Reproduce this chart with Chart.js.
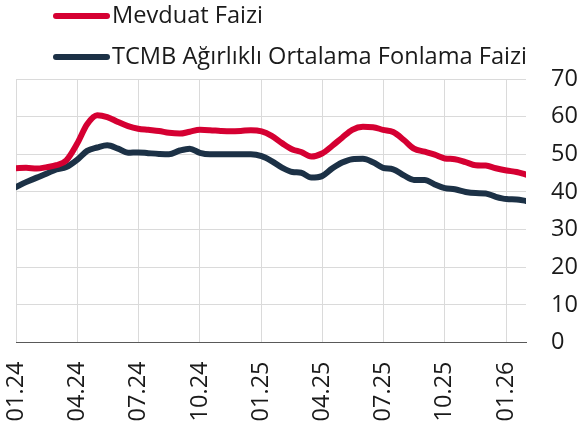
<!DOCTYPE html>
<html><head><meta charset="utf-8">
<script src="https://cdn.jsdelivr.net/npm/chart.js@4"></script>
<style>html,body{margin:0;padding:0;background:#fff}#wrap{width:581px;height:425px;position:relative}</style>
</head><body><div id="wrap"><canvas id="c" width="581" height="425"></canvas></div>
<script>
const dates = [
 '2024-01-01','2024-01-16','2024-02-01','2024-02-16','2024-03-01','2024-03-16','2024-04-01','2024-04-16','2024-05-01','2024-05-16','2024-06-01','2024-06-16',
 '2024-07-01','2024-07-16','2024-08-01','2024-08-16','2024-09-01','2024-09-16','2024-10-01','2024-10-16','2024-11-01','2024-11-16','2024-12-01','2024-12-16',
 '2025-01-01','2025-01-16','2025-02-01','2025-02-16','2025-03-01','2025-03-16','2025-04-01','2025-04-16','2025-05-01','2025-05-16','2025-06-01','2025-06-16',
 '2025-07-01','2025-07-16','2025-08-01','2025-08-16','2025-09-01','2025-09-16','2025-10-01','2025-10-16','2025-11-01','2025-11-16','2025-12-01','2025-12-16',
 '2026-01-01','2026-01-16','2026-01-30'
];
const mevduat = [
 46.3,46.4,46.2,46.6,47.1,48.4,52.8,58.0,60.4,59.9,58.6,57.5,
 56.8,56.5,56.2,55.7,55.5,56.0,56.5,56.4,56.2,56.1,56.2,56.4,
 56.1,54.9,52.9,51.3,50.6,49.4,50.2,52.2,54.4,56.5,57.3,57.2,
 56.5,55.9,53.8,51.5,50.7,49.9,48.9,48.7,47.9,47.1,47.0,46.3,
 45.7,45.3,44.6
];
const tcmb = [
 41.3,42.6,43.8,44.9,46.0,46.6,48.5,50.9,51.8,52.4,51.5,50.4,
 50.5,50.3,50.1,50.0,51.0,51.5,50.4,50.0,50.0,50.0,50.0,50.0,
 49.5,48.2,46.4,45.3,45.1,43.8,44.2,46.2,47.8,48.7,48.8,47.9,
 46.4,46.0,44.4,43.2,43.2,42.0,41.0,40.7,40.0,39.7,39.6,38.7,
 38.1,38.0,37.6
];
const tickDates = ['2024-01-01','2024-04-01','2024-07-01','2024-10-01','2025-01-01','2025-04-01','2025-07-01','2025-10-01','2026-01-01'];
const tickLabels = ['01.24','04.24','07.24','10.24','01.25','04.25','07.25','10.25','01.26'];
const seriesNames = ['Mevduat Faizi','TCMB Ağırlıklı Ortalama Fonlama Faizi'];
const yTicks = [0,10,20,30,40,50,60,70];

const dayNum = s => { const [y,m,d] = s.split('-').map(Number); return (Date.UTC(y,m-1,d) - Date.UTC(2024,0,1)) / 86400000; };
const toPoints = arr => arr.map((v,i) => ({x: dayNum(dates[i]), y: v}));

Chart.defaults.font.family = '"Open Sans", sans-serif';
Chart.defaults.color = '#1a1a1a';

const legendPlugin = {
  id: 'customLegend',
  afterDraw(chart) {
    const ctx = chart.ctx;
    ctx.save();
    chart.data.datasets.forEach((ds, i) => {
      const y = 16 + i * 41;
      ctx.strokeStyle = ds.borderColor;
      ctx.lineWidth = 6;
      ctx.lineCap = 'round';
      ctx.beginPath(); ctx.moveTo(56, y); ctx.lineTo(107, y); ctx.stroke();
      ctx.fillStyle = '#1a1a1a';
      ctx.font = '23.6px "Open Sans"';
      ctx.textBaseline = 'middle';
      ctx.textAlign = 'left';
      ctx.fillText(ds.label, 112, y);
    });
    ctx.restore();
  }
};

new Chart(document.getElementById('c'), {
  type: 'line',
  data: {
    datasets: [
      {label: seriesNames[0], data: toPoints(mevduat), borderColor: '#d50032', borderWidth: 6, pointRadius: 0, cubicInterpolationMode: 'monotone', borderJoinStyle: 'round', borderCapStyle: 'round'},
      {label: seriesNames[1], data: toPoints(tcmb), borderColor: '#1c3146', borderWidth: 6, pointRadius: 0, cubicInterpolationMode: 'monotone', borderJoinStyle: 'round', borderCapStyle: 'round'}
    ]
  },
  options: {
    responsive: false,
    devicePixelRatio: 1,
    animation: false,
    layout: {padding: {top: 79, right: 0, left: 0, bottom: 0}},
    plugins: {legend: {display: false}, tooltip: {enabled: false}},
    scales: {
      x: {
        type: 'linear',
        min: dayNum(dates[0]),
        max: dayNum(dates[dates.length - 1]),
        afterBuildTicks: s => { s.ticks = tickDates.map(d => ({value: dayNum(d)})); },
        afterFit: s => { s.height = 82.5; s.paddingLeft = 16; s.paddingRight = 0; },
        ticks: {autoSkip: false, minRotation: 90, maxRotation: 90, padding: 19, font: {size: 23.5}, color: '#1a1a1a',
                callback: (v, i) => tickLabels[i]},
        grid: {color: '#dadada', lineWidth: 1, drawTicks: false},
        border: {display: true, color: '#595959', width: 1}
      },
      y: {
        position: 'right',
        min: 0, max: 70,
        afterBuildTicks: s => { s.ticks = yTicks.map(v => ({value: v})); },
        afterFit: s => { s.width = 55; s.paddingTop = 0; s.paddingBottom = 0; },
        ticks: {padding: 25, font: {size: 23.5}, color: '#1a1a1a', callback: v => String(v)},
        grid: {color: '#dadada', lineWidth: 1, drawTicks: false},
        border: {display: false}
      }
    }
  },
  plugins: [legendPlugin]
});
</script></body></html>
